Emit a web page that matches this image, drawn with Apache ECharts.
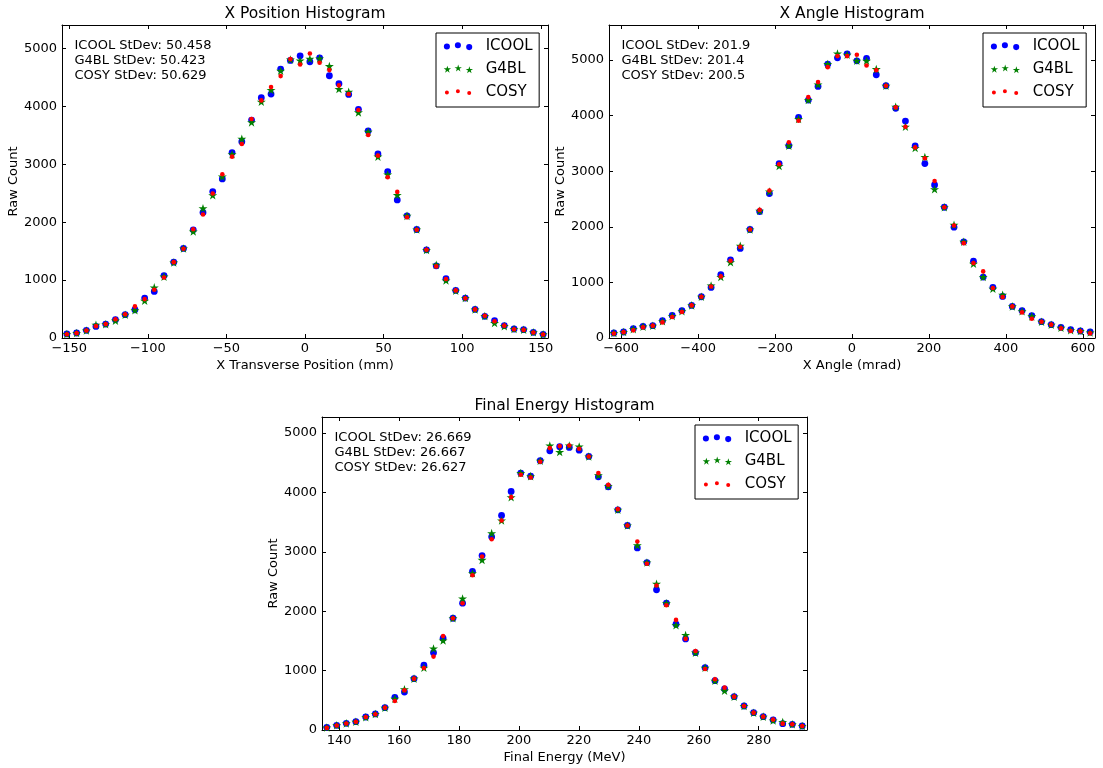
<!DOCTYPE html>
<html><head><meta charset="utf-8">
<script src="https://cdn.jsdelivr.net/npm/echarts@6/dist/echarts.min.js"></script>
<style>html,body{margin:0;padding:0;background:#fff}#c{width:1103px;height:768px}</style>
</head><body><div id="c"></div>
<script>
// ---------------- DATA ----------------
const seriesNames = ['ICOOL', 'G4BL', 'COSY'];
const plotTitles = ['X Position Histogram', 'X Angle Histogram', 'Final Energy Histogram'];
const xAxisNames = ['X Transverse Position (mm)', 'X Angle (mrad)', 'Final Energy (MeV)'];
const yAxisName = 'Raw Count';
const stdevLabels = [
  ['ICOOL StDev: 50.458', 'G4BL StDev: 50.423', 'COSY StDev: 50.629'],
  ['ICOOL StDev: 201.9', 'G4BL StDev: 201.4', 'COSY StDev: 200.5'],
  ['ICOOL StDev: 26.669', 'G4BL StDev: 26.667', 'COSY StDev: 26.627']
];
const xTicks1 = [-150, -100, -50, 0, 50, 100, 150];
const xTicks2 = [-600, -400, -200, 0, 200, 400, 600];
const xTicks3 = [140, 160, 180, 200, 220, 240, 260, 280];
const yTicks = [0, 1000, 2000, 3000, 4000, 5000];
const xRange1 = [-154.6, 154.6];
const xRange2 = [-631.7, 631.7];
const xRange3 = [134.3, 296.1];
const yMax = [5405, 5632, 5271];

// Plot 1: X position bin centers (mm)
const posX = [-151.5,-145.3,-139.1,-133.0,-126.8,-120.6,-114.4,-108.2,-102.0,-95.9,
  -89.7,-83.5,-77.3,-71.1,-64.9,-58.7,-52.6,-46.4,-40.2,-34.0,
  -27.8,-21.6,-15.5,-9.3,-3.1,3.1,9.3,15.5,21.6,27.8,
  34.0,40.2,46.4,52.6,58.7,64.9,71.1,77.3,83.5,89.7,
  95.9,102.0,108.2,114.4,120.6,126.8,133.0,139.1,145.3,151.5];
const posICOOL = [70,86,132,200,241,316,402,488,690,805,
  1075,1310,1546,1868,2167,2529,2747,3201,3391,3764,
  4149,4213,4644,4793,4873,4770,4839,4529,4391,4207,
  3948,3575,3178,2874,2385,2109,1874,1523,1247,1023,
  822,690,494,374,299,213,155,144,98,63];
const posG4BL = [70,86,130,230,238,300,400,478,644,874,
  1060,1305,1546,1839,2241,2465,2787,3172,3442,3724,
  4080,4282,4615,4810,4793,4822,4827,4695,4299,4253,
  3896,3563,3132,2822,2471,2109,1874,1520,1264,994,
  815,690,494,380,259,205,155,144,98,63];
const posCOSY = [65,84,130,205,241,325,410,546,672,833,
  1046,1310,1540,1879,2132,2494,2827,3132,3350,3782,
  4103,4333,4523,4816,4724,4914,4753,4626,4362,4213,
  3937,3506,3149,2776,2523,2086,1870,1523,1236,1020,
  822,685,494,385,290,213,150,140,95,60];

// Plot 2: X angle bin centers (mrad)
const angX = [-619.0,-593.7,-568.5,-543.2,-517.9,-492.7,-467.4,-442.1,-416.8,-391.6,
  -366.3,-341.0,-315.8,-290.5,-265.2,-240.0,-214.7,-189.4,-164.2,-138.9,
  -113.6,-88.3,-63.1,-37.8,-12.6,12.6,37.8,63.1,88.3,113.6,
  138.9,164.2,189.4,214.7,240.0,265.2,290.5,315.8,341.0,366.3,
  391.6,416.8,442.1,467.4,492.7,517.9,543.2,568.5,593.7,619.0];
const angICOOL = [90,108,168,210,222,311,407,491,587,742,
  910,1138,1407,1611,1952,2275,2599,3138,3461,3970,
  4281,4527,4928,5042,5114,4988,5030,4737,4539,4132,
  3904,3455,3138,2754,2353,1994,1731,1383,1096,910,
  748,569,491,401,293,240,192,150,126,108];
const angG4BL = [90,108,160,205,222,300,395,480,587,742,
  946,1096,1365,1659,1952,2290,2635,3096,3461,3940,
  4281,4563,4928,5120,5096,4988,4988,4838,4539,4162,
  3802,3419,3257,2677,2353,2036,1731,1335,1096,886,
  778,569,480,389,293,240,185,140,126,100];
const angCOSY = [80,105,138,192,222,281,377,467,587,742,
  928,1108,1389,1641,1952,2305,2653,3126,3521,3910,
  4335,4605,4874,5072,5072,5096,4904,4820,4539,4150,
  3802,3430,3234,2826,2353,2024,1707,1350,1198,900,
  736,569,461,347,293,240,174,126,120,84];

// Plot 3: final energy bin centers (MeV)
const enX = [135.9,139.2,142.4,145.6,148.9,152.1,155.3,158.6,161.8,165.0,
  168.3,171.5,174.7,178.0,181.2,184.5,187.7,190.9,194.2,197.4,
  200.6,203.9,207.1,210.3,213.6,216.8,220.1,223.3,226.5,229.8,
  233.0,236.2,239.5,242.7,245.9,249.2,252.4,255.6,258.9,262.1,
  265.4,268.6,271.8,275.1,278.3,281.5,284.8,288.0,291.2,294.5];
const enICOOL = [45,79,112,140,219,270,376,551,640,865,
  1090,1303,1545,1882,2135,2669,2938,3253,3612,4017,
  4326,4275,4534,4702,4770,4758,4713,4607,4264,4096,
  3708,3444,3067,2820,2360,2135,1781,1534,1303,1050,
  831,691,562,404,292,225,169,107,96,67];
const enG4BL = [42,79,112,140,215,270,376,528,685,865,
  1050,1371,1506,1882,2213,2640,2865,3315,3528,3921,
  4326,4275,4534,4792,4680,4792,4775,4607,4290,4110,
  3708,3444,3112,2820,2461,2135,1764,1601,1303,1050,
  831,663,562,404,292,225,160,135,96,67];
const enCOSY = [35,75,110,140,219,265,376,489,668,865,
  1045,1236,1584,1882,2135,2607,2921,3213,3528,3921,
  4298,4253,4517,4747,4781,4792,4736,4607,4326,4129,
  3720,3444,3174,2800,2433,2101,1854,1534,1331,1028,
  854,713,562,404,292,225,175,107,96,67];

// ---------------- CHART ----------------
const FONT = 'DejaVu Sans';
const COLORS = ['#0000ff', '#008000', '#ff0000'];
const grids = [
  {left: 62, top: 25, width: 486, height: 313},
  {left: 609, top: 25, width: 486, height: 313},
  {left: 322, top: 417, width: 485, height: 313}
];
const xRanges = [xRange1, xRange2, xRange3];
const xTicks = [xTicks1, xTicks2, xTicks3];
const plots = [
  [posX, [posICOOL, posG4BL, posCOSY]],
  [angX, [angICOOL, angG4BL, angCOSY]],
  [enX, [enICOOL, enG4BL, enCOSY]]
];

function starPath(cx, cy, R) {
  const r = R * 0.382; let s = '';
  for (let k = 0; k < 10; k++) {
    const a = -Math.PI / 2 + k * Math.PI / 5, rr = k % 2 ? r : R;
    s += (k ? 'L' : 'M') + (cx + rr * Math.cos(a)).toFixed(2) + ' ' + (cy + rr * Math.sin(a)).toFixed(2);
  }
  return s + 'Z';
}
function circPath(cx, cy, r) {
  return `M${cx + r} ${cy}A${r} ${r} 0 1 0 ${cx - r} ${cy}A${r} ${r} 0 1 0 ${cx + r} ${cy}Z`;
}
const ICON_W = 37, ICON_H = 10;
function legendIcon(kind, size) {
  const xs = [3.2, 14.2, 25.5], ys = [5, 3.8, 5.6];
  let p = `M0 0M${ICON_W} ${ICON_H}`;
  for (let k = 0; k < 3; k++) p += kind === 'star' ? starPath(xs[k], ys[k], size) : circPath(xs[k], ys[k], size);
  return 'path://' + p;
}
const legendIcons = [legendIcon('circle', 3.05), legendIcon('star', 3.9), legendIcon('circle', 2.0)];
const dataSymbols = ['circle', 'path://' + starPath(0, 0, 10), 'circle'];
const dataSizes = [6.8, 9, 4.6];
const legendPos = [[436, 33], [983, 33], [695, 425]];

const minusFmt = v => String(v).replace('-', '\u2212');
const tickStyle = {inside: true, length: 4, lineStyle: {color: '#000', width: 1}};
const lineStyle = {show: true, onZero: false, lineStyle: {color: '#000', width: 1}};

const xAxis = [], yAxis = [], series = [], legend = [], graphic = [];
grids.forEach((g, p) => {
  xAxis.push({
    type: 'value', gridIndex: p, position: 'bottom', min: xRanges[p][0], max: xRanges[p][1],
    axisLine: lineStyle, splitLine: {show: false},
    axisTick: Object.assign({customValues: xTicks[p]}, tickStyle),
    axisLabel: {customValues: xTicks[p], formatter: minusFmt, color: '#000', fontSize: 13, fontFamily: FONT, margin: 4},
    name: xAxisNames[p], nameLocation: 'middle', nameGap: 21,
    nameTextStyle: {color: '#000', fontSize: 13, fontFamily: FONT}
  });
  xAxis.push({
    type: 'value', gridIndex: p, position: 'top', min: xRanges[p][0], max: xRanges[p][1],
    axisLine: lineStyle, splitLine: {show: false},
    axisTick: Object.assign({customValues: xTicks[p]}, tickStyle),
    axisLabel: {show: false}
  });
  yAxis.push({
    type: 'value', gridIndex: p, position: 'left', min: 0, max: yMax[p],
    axisLine: lineStyle, splitLine: {show: false},
    axisTick: Object.assign({customValues: yTicks}, tickStyle),
    axisLabel: {customValues: yTicks, formatter: v => String(v), color: '#000', fontSize: 13, fontFamily: FONT, margin: 5},
    name: yAxisName, nameLocation: 'middle', nameGap: 35,
    nameTextStyle: {color: '#000', fontSize: 13, fontFamily: FONT}
  });
  yAxis.push({
    type: 'value', gridIndex: p, position: 'right', min: 0, max: yMax[p],
    axisLine: lineStyle, splitLine: {show: false},
    axisTick: Object.assign({customValues: yTicks}, tickStyle),
    axisLabel: {show: false}
  });
  const [xs, ys] = plots[p];
  ys.forEach((vals, s) => {
    series.push({
      type: 'scatter', name: seriesNames[s], xAxisIndex: p * 2, yAxisIndex: p * 2,
      symbol: dataSymbols[s], symbolSize: dataSizes[s], symbolKeepAspect: true,
      itemStyle: {color: COLORS[s], opacity: 1}, silent: true,
      data: xs.map((x, i) => [x, vals[i]])
    });
  });
  legend.push({
    left: legendPos[p][0], top: legendPos[p][1], orient: 'vertical',
    padding: [6, 6.6, 7, 7.7], itemGap: 8, itemWidth: ICON_W, itemHeight: ICON_H,
    borderColor: '#000', borderWidth: 1, borderRadius: 0, backgroundColor: '#fff',
    selectedMode: false, symbolKeepAspect: true,
    textStyle: {color: '#000', fontSize: 15, fontFamily: FONT},
    data: seriesNames.map((n, s) => ({name: n, icon: legendIcons[s]}))
  });
  graphic.push({
    type: 'text', x: g.left + g.width / 2, y: g.top - 11,
    style: {text: plotTitles[p], align: 'center', verticalAlign: 'middle', fontSize: 15.5, fontFamily: FONT, fill: '#000'}
  });
  stdevLabels[p].forEach((t, k) => {
    graphic.push({
      type: 'text', x: g.left + 12.5, y: g.top + 21 + k * 14.6,
      style: {text: t, align: 'left', verticalAlign: 'middle', fontSize: 13, fontFamily: FONT, fill: '#000'}
    });
  });
});

const chart = echarts.init(document.getElementById('c'), null, {renderer: 'canvas'});
chart.setOption({
  animation: false, backgroundColor: '#fff',
  grid: grids.map(g => Object.assign({containLabel: false}, g)),
  xAxis, yAxis, series, legend, graphic
});
</script></body></html>
